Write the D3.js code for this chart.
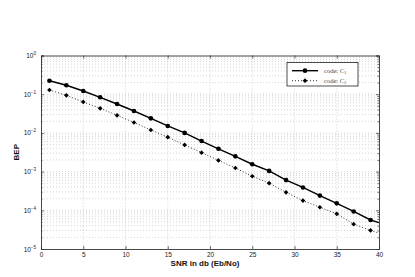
<!DOCTYPE html>
<html><head><meta charset="utf-8">
<script src="https://cdn.jsdelivr.net/npm/d3@7"></script>
<style>
html,body{margin:0;padding:0;background:#fff;}
svg{display:block;}
text{font-family:"Liberation Sans",Arial,Helvetica,sans-serif;}
text.serif{font-family:"Liberation Serif","Times New Roman",serif;}
</style></head>
<body>
<svg id="chart" width="415" height="277"></svg>
<script>
// ---- data ----
const snrMarkers = [1,3,5,7,9,11,13,15,17,19,21,23,25,27,29,31,33,35,37,39];
const bepC1 = [0.223,0.170,0.121,0.0832,0.0558,0.0368,0.0238,0.0151,0.0100,0.00617,0.00389,0.00248,0.00155,0.00104,0.000603,0.000389,0.000240,0.000151,0.0000933,0.0000562];
const bepC2 = [0.1285,0.0933,0.0631,0.0432,0.0285,0.0186,0.0119,0.00776,0.00490,0.00309,0.00195,0.00124,0.000759,0.000501,0.000292,0.000178,0.000120,0.0000813,0.0000437,0.0000302];
const snrEnd = 40;
const bepC1End = 0.0000479;
const bepC2End = 0.0000257;
const xTicks = [0,5,10,15,20,25,30,35,40];
const yTickExps = [0,-1,-2,-3,-4,-5];
const seriesNames = ["code: ", "code: "];
const seriesSubs = ["1","2"];

// ---- layout ----
const svg = d3.select("#chart");
const L = 41, T = 55.5, W = 338, H = 193.5;
const x = d3.scaleLinear().domain([0,40]).range([L, L+W]);
const y = d3.scaleLog().domain([1e-5,1]).range([T+H, T]);

svg.append("rect").attr("x",0).attr("y",0).attr("width",415).attr("height",277).attr("fill","#fff");
svg.append("rect").attr("x",L).attr("y",T).attr("width",W).attr("height",H).attr("fill","#fff");

// minor y values
const minorY = [];
for (let e=-5; e<0; e++) for (let m=2; m<=9; m++) minorY.push(m*Math.pow(10,e));
const majorY = yTickExps.map(e=>Math.pow(10,e));

const grid = svg.append("g").attr("stroke","#b8b8b8").attr("stroke-width",0.6).attr("stroke-dasharray","1,2");
grid.selectAll("line.hy").data(minorY.concat(majorY.slice(1,-1))).join("line")
  .attr("x1",L).attr("x2",L+W).attr("y1",d=>y(d)).attr("y2",d=>y(d));
grid.selectAll("line.vx").data(xTicks.slice(1,-1)).join("line").attr("class","vx")
  .attr("y1",T).attr("y2",T+H).attr("x1",d=>x(d)).attr("x2",d=>x(d));

// axes (ticks inward)
const axB = svg.append("g").attr("transform",`translate(0,${T+H})`)
  .call(d3.axisBottom(x).tickValues(xTicks).tickSize(-3).tickPadding(3).tickFormat(d3.format("d")));
const axT = svg.append("g").attr("transform",`translate(0,${T})`)
  .call(d3.axisTop(x).tickValues(xTicks).tickSize(-3).tickFormat(""));
const axL = svg.append("g").attr("transform",`translate(${L},0)`)
  .call(d3.axisLeft(y).tickValues(majorY).tickSize(-3).tickFormat(""));
const axR = svg.append("g").attr("transform",`translate(${L+W},0)`)
  .call(d3.axisRight(y).tickValues(majorY).tickSize(-3).tickFormat(""));
const axLm = svg.append("g").attr("transform",`translate(${L},0)`)
  .call(d3.axisLeft(y).tickValues(minorY).tickSize(-1.5).tickFormat(""));
const axRm = svg.append("g").attr("transform",`translate(${L+W},0)`)
  .call(d3.axisRight(y).tickValues(minorY).tickSize(-1.5).tickFormat(""));
[axB,axT,axL,axR,axLm,axRm].forEach(a=>{
  a.selectAll("path").attr("stroke","#333").attr("stroke-width",0.9);
  a.selectAll("line").attr("stroke","#333").attr("stroke-width",0.7);
});
axLm.select("path").remove(); axRm.select("path").remove();
axB.selectAll("text").attr("font-size",6.5).attr("fill","#222");

// y tick labels with superscripts
const yl = svg.append("g");
yTickExps.forEach(e=>{
  const t = yl.append("text").attr("x",L-5).attr("y",y(Math.pow(10,e))+2.5)
    .attr("text-anchor","end").attr("font-size",6.5).attr("fill","#222");
  t.append("tspan").text("10");
  t.append("tspan").attr("dy",-3).attr("font-size",4.5).text(e===0?"0":"\u2212"+(-e));
});

// axis titles
svg.append("text").attr("x",205).attr("y",265.5).attr("text-anchor","middle")
  .attr("font-size",8).attr("font-weight","bold").attr("fill","#111").text("SNR in db (Eb/No)");
svg.append("text").attr("transform",`translate(19,${T+H/2}) rotate(-90)`).attr("text-anchor","middle")
  .attr("font-size",8).attr("font-weight","bold").attr("fill","#111").text("BEP");

// series
const c1 = snrMarkers.map((s,i)=>[s,bepC1[i]]).concat([[snrEnd,bepC1End]]);
const c2 = snrMarkers.map((s,i)=>[s,bepC2[i]]).concat([[snrEnd,bepC2End]]);
const line = d3.line().x(d=>x(d[0])).y(d=>y(d[1]));
svg.append("clipPath").attr("id","clp").append("rect").attr("x",L).attr("y",T).attr("width",W).attr("height",H);
const plot = svg.append("g").attr("clip-path","url(#clp)");
plot.append("path").datum(c1).attr("d",line).attr("fill","none").attr("stroke","#000").attr("stroke-width",1.4);
plot.append("path").datum(c2).attr("d",line).attr("fill","none").attr("stroke","#333").attr("stroke-width",1).attr("stroke-dasharray","1,2");
const circ = d3.symbol().type(d3.symbolCircle).size(17);
const diam = d3.symbol().type(d3.symbolSquare).size(11);
plot.selectAll("path.m1").data(c1.slice(0,-1)).join("path").attr("class","m1")
  .attr("d",circ).attr("transform",d=>`translate(${x(d[0])},${y(d[1])})`).attr("fill","#000");
plot.selectAll("path.m2").data(c2.slice(0,-1)).join("path").attr("class","m2")
  .attr("d",diam).attr("transform",d=>`translate(${x(d[0])},${y(d[1])}) rotate(45)`).attr("fill","#000");

// legend
const lg = svg.append("g");
lg.append("rect").attr("x",287).attr("y",62.5).attr("width",71).attr("height",23.5)
  .attr("fill","#fff").attr("stroke","#222").attr("stroke-width",0.8);
const rows = [70.7, 80.7];
[0,1].forEach(i=>{
  const ry = rows[i];
  lg.append("line").attr("x1",292).attr("x2",318).attr("y1",ry).attr("y2",ry)
    .attr("stroke",i===0?"#000":"#333").attr("stroke-width",i===0?1.4:1)
    .attr("stroke-dasharray",i===0?null:"1,2");
  lg.append("path").attr("d",i===0?circ:diam)
    .attr("transform",`translate(305,${ry})`+(i===0?"":" rotate(45)")).attr("fill","#000");
  const t = lg.append("text").attr("class","serif").attr("x",324).attr("y",ry+2).attr("font-size",6.5)
    .attr("fill","#444");
  t.append("tspan").text(seriesNames[i]);
  t.append("tspan").attr("font-style","italic").text("C");
  t.append("tspan").attr("dy",1.5).attr("font-size",4.5).text(seriesSubs[i]);
});
</script>
</body></html>
